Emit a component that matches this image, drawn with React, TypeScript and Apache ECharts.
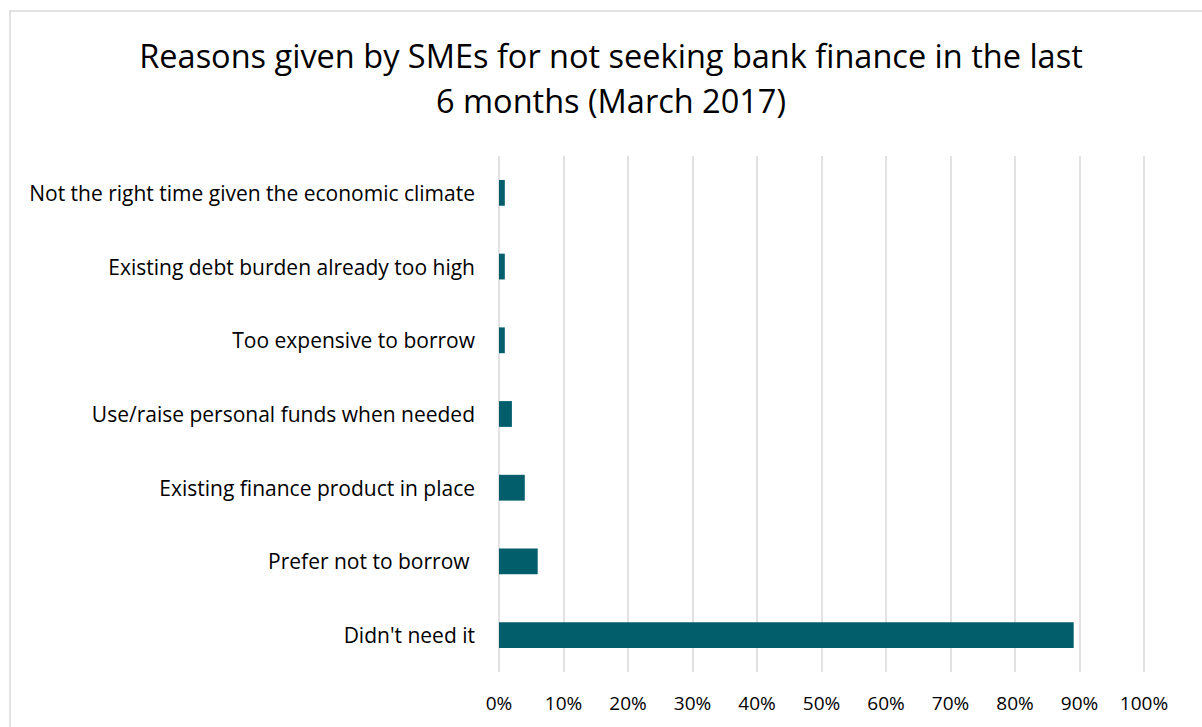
import React, { useEffect, useRef } from "react";
import * as echarts from "echarts";

const categories = [
  "Didn't need it",
  "Prefer not to borrow ",
  "Existing finance product in place",
  "Use/raise personal funds when needed",
  "Too expensive to borrow",
  "Existing debt burden already too high",
  "Not the right time given the economic climate",
];
const values = [0.891, 0.06, 0.04, 0.02, 0.009, 0.009, 0.009];
const titleLines = ["Reasons given by SMEs for not seeking bank finance in the last", "6 months (March 2017)"];

const FONT = "'Open Sans', sans-serif";

export default function App() {
  const ref = useRef<HTMLDivElement>(null);
  useEffect(() => {
    if (!ref.current) return;
    const chart = echarts.init(ref.current, null, { renderer: "svg" });
    chart.setOption({
      animation: false,
      backgroundColor: "#ffffff",
      title: {
        text: titleLines.join("\n"),
        left: 606,
        textAlign: "center",
        top: 28,
        textStyle: {
          fontFamily: FONT,
          fontSize: 32.5,
          fontWeight: "normal",
          color: "#000000",
          lineHeight: 45,
        },
      },
      graphic: [
        {
          type: "rect",
          shape: { x: 10, y: 11, width: 1210, height: 740 },
          style: { fill: "none", stroke: "#D9D9D9", lineWidth: 1.5 },
          silent: true,
        },
      ],
      grid: { left: 499, right: 58, top: 156, bottom: 55, containLabel: false },
      xAxis: {
        type: "value",
        min: 0,
        max: 1,
        interval: 0.1,
        axisLine: { show: false },
        axisTick: { show: false },
        splitLine: { show: true, lineStyle: { color: "#D9D9D9", width: 1.5 } },
        axisLabel: {
          fontFamily: FONT,
          fontSize: 19,
          color: "#000000",
          margin: 21,
          formatter: (v: number) => Math.round(v * 100) + "%",
        },
      },
      yAxis: {
        type: "category",
        data: categories,
        axisLine: { show: false },
        axisTick: { show: false },
        splitLine: { show: false },
        axisLabel: {
          fontFamily: FONT,
          fontSize: 21,
          color: "#000000",
          margin: 24,
        },
      },
      series: [
        {
          type: "bar",
          data: values,
          barCategoryGap: "65%",
          itemStyle: { color: "#035E6C" },
        },
      ],
    });
    return () => chart.dispose();
  }, []);
  return (
    <div
      ref={ref}
      style={{ position: "fixed", left: 0, top: 0, width: 1202, height: 727 }}
    />
  );
}
